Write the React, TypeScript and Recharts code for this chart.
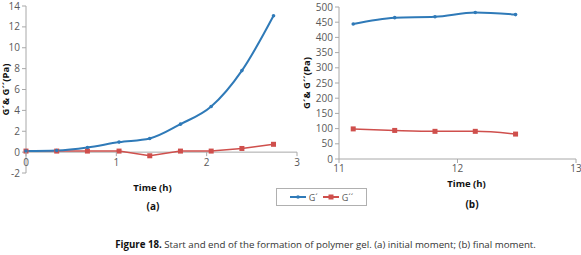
import React from 'react';
import { LineChart, Line, XAxis, YAxis, ReferenceLine } from 'recharts';

// (a) initial moment
const timeA = [0, 0.34, 0.68, 1.03, 1.37, 1.71, 2.05, 2.39, 2.74];
const gPrimeA = [0.1, 0.16, 0.45, 0.96, 1.31, 2.68, 4.37, 7.81, 13.07];
const gDoubleA = [0.1, 0.1, 0.1, 0.1, -0.35, 0.1, 0.1, 0.35, 0.75];
const xTicksA = [0, 1, 2, 3];
const yTicksA = [-2, 0, 2, 4, 6, 8, 10, 12, 14];

// (b) final moment
const timeB = [11.12, 11.47, 11.81, 12.15, 12.49];
const gPrimeB = [444, 465, 468, 482, 475];
const gDoubleB = [99, 94, 91, 91, 82];
const xTicksB = [11, 12, 13];
const yTicksB = [0, 50, 100, 150, 200, 250, 300, 350, 400, 450, 500];

const BLUE = '#2f7ab8';
const RED = '#cf4f4c';
const AXIS = '#a8a8a8';
const TICK = '#595959';
const FONT = '"Open Sans", sans-serif';

const dataA = timeA.map((t, i) => ({ t, g1: gPrimeA[i], g2: gDoubleA[i] }));
const dataB = timeB.map((t, i) => ({ t, g1: gPrimeB[i], g2: gDoubleB[i] }));

const tickStyle = { fontSize: 10, fill: TICK, fontFamily: FONT };
const titleStyle = { fontSize: 9.5, fontWeight: 700, fill: '#111', fontFamily: FONT };

// plot height of chart (a): x axis sits at y = 0, not at the bottom
const PLOT_A_H = 167;
const SHIFT_A = (PLOT_A_H * (0 - yTicksA[0])) / (yTicksA[yTicksA.length - 1] - yTicksA[0]);

const ZeroTick = ({ x, y, payload }: any) => (
  <g transform={`translate(${x},${y - SHIFT_A})`}>
    <line x1={0} x2={0} y1={0} y2={4} stroke={AXIS} />
    <text y={14} textAnchor="middle" {...tickStyle}>
      {payload.value}
    </text>
  </g>
);

const BlueDot = ({ cx, cy }: any) => (cx == null ? null : <circle cx={cx} cy={cy} r={1.8} fill={BLUE} />);
const RedSquare = ({ cx, cy }: any) =>
  cx == null ? null : <rect x={cx - 2.5} y={cy - 2.5} width={5} height={5} fill={RED} />;

const LegendIcon = ({ color, square }: { color: string; square?: boolean }) => (
  <svg width={16} height={8} style={{ marginRight: 3 }}>
    <line x1={0} x2={16} y1={4} y2={4} stroke={color} strokeWidth={2} />
    {square ? <rect x={5.5} y={1.5} width={5} height={5} fill={color} /> : <circle cx={8} cy={4} r={1.8} fill={color} />}
  </svg>
);

export default function App() {
  return (
    <div style={{ position: 'absolute', left: 0, top: 0, width: 581, height: 255, background: '#fff', fontFamily: FONT }}>
      <div style={{ position: 'absolute', left: 0, top: 0 }}>
        <LineChart width={300} height={195} data={dataA} margin={{ top: 6, right: 3, left: 0, bottom: 2 }}>
          <XAxis
            dataKey="t"
            type="number"
            domain={[0, 3]}
            ticks={xTicksA}
            interval={0}
            axisLine={false}
            tickLine={false}
            tickSize={0}
            tickMargin={0}
            height={20}
            tick={<ZeroTick />}
            label={{ value: 'Time (h)', position: 'insideBottom', offset: 2, dx: -9, style: titleStyle }}
          />
          <YAxis
            type="number"
            domain={[-2, 14]}
            ticks={yTicksA}
            interval={0}
            width={26}
            tickSize={4}
            tickMargin={2}
            tick={tickStyle}
            stroke={AXIS}
            label={{ value: 'G´& G´´(Pa)', angle: -90, position: 'insideLeft', offset: 6, style: { ...titleStyle, textAnchor: 'middle' } }}
          />
          <ReferenceLine y={0} stroke={AXIS} />
          <Line dataKey="g2" type="linear" stroke={RED} strokeWidth={1.5} dot={<RedSquare />} isAnimationActive={false} />
          <Line dataKey="g1" type="monotone" stroke={BLUE} strokeWidth={2} dot={<BlueDot />} isAnimationActive={false} />
        </LineChart>
      </div>

      <div style={{ position: 'absolute', left: 290, top: 0 }}>
        <LineChart width={291} height={195} data={dataB} margin={{ top: 7, right: 5, left: 0, bottom: 3 }}>
          <XAxis
            dataKey="t"
            type="number"
            domain={[11, 13]}
            ticks={xTicksB}
            interval={0}
            height={33}
            tickSize={4}
            tickMargin={2}
            tick={tickStyle}
            stroke={AXIS}
            label={{ value: 'Time (h)', position: 'insideBottom', offset: 5, dx: 9, style: titleStyle }}
          />
          <YAxis
            type="number"
            domain={[0, 500]}
            ticks={yTicksB}
            interval={0}
            width={49}
            tickSize={4}
            tickMargin={2}
            tick={tickStyle}
            stroke={AXIS}
            label={{ value: 'G´& G´´(Pa)', angle: -90, position: 'insideLeft', offset: 17, style: { ...titleStyle, textAnchor: 'middle' } }}
          />
          <Line dataKey="g2" type="monotone" stroke={RED} strokeWidth={1.5} dot={<RedSquare />} isAnimationActive={false} />
          <Line dataKey="g1" type="monotone" stroke={BLUE} strokeWidth={2} dot={<BlueDot />} isAnimationActive={false} />
        </LineChart>
      </div>

      <div style={{ position: 'absolute', left: 133, top: 199, width: 40, textAlign: 'center', fontSize: 10, fontWeight: 700, color: '#111' }}>(a)</div>
      <div style={{ position: 'absolute', left: 452, top: 197, width: 40, textAlign: 'center', fontSize: 10, fontWeight: 700, color: '#111' }}>(b)</div>

      <div
        style={{
          position: 'absolute',
          left: 276,
          top: 188,
          width: 89,
          height: 16,
          border: '1px solid #b0b0b0',
          display: 'flex',
          alignItems: 'center',
          justifyContent: 'center',
          fontSize: 9,
          color: TICK,
        }}
      >
        <LegendIcon color={BLUE} />
        <span style={{ marginRight: 5 }}>G´</span>
        <LegendIcon color={RED} square />
        <span>G´´</span>
      </div>

      <div style={{ position: 'absolute', left: 0, top: 238, width: 651, textAlign: 'center', fontSize: 9.7, color: '#333', whiteSpace: 'nowrap' }}>
        <b style={{ color: '#111' }}>Figure 18.</b> Start and end of the formation of polymer gel. (a) initial moment; (b) final moment.
      </div>
    </div>
  );
}
